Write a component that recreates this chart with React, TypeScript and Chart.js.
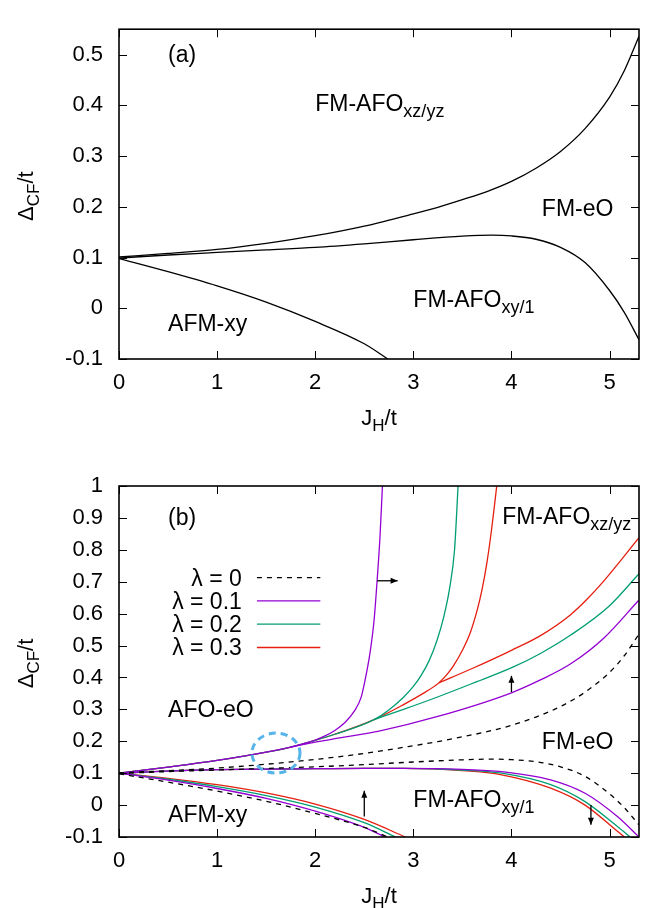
import React, { useEffect, useRef } from "react";
import { Chart, registerables } from "chart.js";

Chart.register(...registerables);

const FONT = "'Liberation Sans', Arial, Helvetica, sans-serif";

// ---------- axes ----------
const X_MIN = 0;
const X_MAX = 5.3;
const A_Y_MIN = -0.1;
const A_Y_MAX = 0.55;
const B_Y_MIN = -0.1;
const B_Y_MAX = 1.0;

// ---------- lambda = 0 (panel a solid, panel b dashed) ----------
const L0_UP_J = [0, 0.5, 1, 1.5, 2, 2.5, 3, 3.25, 3.5, 3.75, 4, 4.25, 4.5, 4.75, 5, 5.15, 5.3];
const L0_UP_D = [0.101, 0.108, 0.116, 0.128, 0.143, 0.162, 0.186, 0.199, 0.214, 0.23, 0.25, 0.276, 0.309, 0.354, 0.416, 0.468, 0.536];
const L0_MID_J = [0, 0.5, 1, 1.5, 2, 2.5, 3, 3.5, 3.8, 4, 4.25, 4.5, 4.75, 5, 5.15, 5.3];
const L0_MID_D = [0.099, 0.105, 0.11, 0.115, 0.12, 0.127, 0.135, 0.142, 0.144, 0.1425, 0.136, 0.12, 0.09, 0.035, -0.008, -0.062];
const L0_LOW_J = [0, 0.5, 1, 1.5, 2, 2.5, 2.74];
const L0_LOW_D = [0.098, 0.072, 0.044, 0.012, -0.026, -0.07, -0.1];

// ---------- lambda = 0.1 ----------
const L1_UP_J = [0, 0.5, 1, 1.5, 1.75, 1.9, 2.0, 2.1, 2.2, 2.3, 2.4, 2.47, 2.52, 2.56, 2.6, 2.63, 2.66, 2.685];
const L1_UP_D = [0.1, 0.119, 0.14, 0.166, 0.182, 0.194, 0.204, 0.217, 0.234, 0.258, 0.295, 0.34, 0.41, 0.48, 0.58, 0.7, 0.84, 1.0];
const L1_EO_J = [1.75, 2.0, 2.2, 2.65, 3.24, 4.0, 4.3, 4.6, 4.94, 5.3];
const L1_EO_D = [0.182, 0.197, 0.208, 0.232, 0.277, 0.352, 0.393, 0.442, 0.523, 0.643];
const L1_MID_J = [0, 0.3, 0.7, 1, 1.5, 2, 2.5, 2.9, 3.5, 3.9, 4.4, 4.75, 5.08, 5.3];
const L1_MID_D = [0.1, 0.104, 0.109, 0.111, 0.113, 0.114, 0.115, 0.115, 0.112, 0.105, 0.079, 0.037, -0.036, -0.1];
const L1_LOW_J = [0, 0.5, 1, 1.5, 2, 2.5, 2.71];
const L1_LOW_D = [0.1, 0.078, 0.052, 0.021, -0.019, -0.07, -0.1];

// ---------- lambda = 0.2 ----------
const L2_UP_J = [0, 0.5, 1, 1.5, 1.75, 2.0, 2.2, 2.6, 2.75, 2.9, 3.0, 3.07, 3.16, 3.24, 3.31, 3.37, 3.42, 3.456];
const L2_UP_D = [0.1, 0.119, 0.14, 0.166, 0.182, 0.203, 0.222, 0.268, 0.298, 0.338, 0.372, 0.402, 0.452, 0.515, 0.59, 0.68, 0.8, 1.0];
const L2_EO_J = [2.6, 2.9, 3.24, 3.6, 4.02, 4.3, 4.6, 5.0, 5.3];
const L2_EO_D = [0.268, 0.3, 0.338, 0.381, 0.433, 0.476, 0.532, 0.625, 0.725];
const L2_MID_J = [0, 0.3, 0.7, 1, 1.5, 2, 2.5, 2.9, 3.5, 3.9, 4.4, 4.75, 5.08, 5.21];
const L2_MID_D = [0.1, 0.104, 0.109, 0.111, 0.113, 0.114, 0.115, 0.115, 0.11, 0.1, 0.064, 0.011, -0.067, -0.1];
const L2_LOW_J = [0, 0.5, 1, 1.5, 2, 2.5, 2.82];
const L2_LOW_D = [0.1, 0.081, 0.058, 0.03, -0.006, -0.055, -0.1];

// ---------- lambda = 0.3 ----------
const L3_UP_J = [0, 0.5, 1, 1.5, 1.75, 2.0, 2.2, 2.6, 2.9, 3.1, 3.26, 3.35, 3.41, 3.5, 3.58, 3.65, 3.7, 3.75, 3.8, 3.85];
const L3_UP_D = [0.1, 0.119, 0.14, 0.166, 0.182, 0.203, 0.222, 0.268, 0.315, 0.35, 0.383, 0.412, 0.437, 0.485, 0.54, 0.61, 0.675, 0.76, 0.87, 1.0];
const L3_EO_J = [3.26, 3.6, 4.0, 4.3, 4.6, 4.77, 4.94, 5.3];
const L3_EO_D = [0.383, 0.428, 0.485, 0.532, 0.596, 0.645, 0.702, 0.838];
const L3_MID_J = [0, 0.3, 0.7, 1, 1.5, 2, 2.5, 2.9, 3.5, 3.9, 4.4, 4.75, 5.08, 5.15];
const L3_MID_D = [0.1, 0.104, 0.109, 0.111, 0.113, 0.114, 0.115, 0.115, 0.108, 0.095, 0.053, 0.0, -0.082, -0.1];
const L3_LOW_J = [0, 0.5, 1, 1.5, 2, 2.5, 2.92];
const L3_LOW_D = [0.1, 0.084, 0.064, 0.038, 0.003, -0.045, -0.1];

// ---------- legend ----------
const LEGEND_LABELS = ["λ = 0", "λ = 0.1", "λ = 0.2", "λ = 0.3"];
const COL_BLACK = "#000000";
const COL_L1 = "#9400d3";
const COL_L2 = "#009e73";
const COL_L3 = "#e51e10";
const COL_MARK = "#56b4e9";

type Part = { t: string; sub?: boolean };
type Label = { j: number; d: number; parts: Part[] };

const A_LABELS: Label[] = [
  { j: 0.5, d: 0.502, parts: [{ t: "(a)" }] },
  { j: 2.0, d: 0.404, parts: [{ t: "FM-AFO" }, { t: "xz/yz", sub: true }] },
  { j: 4.31, d: 0.198, parts: [{ t: "FM-eO" }] },
  { j: 3.0, d: 0.0185, parts: [{ t: "FM-AFO" }, { t: "xy/1", sub: true }] },
  { j: 0.5, d: -0.03, parts: [{ t: "AFM-xy" }] },
];
const B_LABELS: Label[] = [
  { j: 0.5, d: 0.902, parts: [{ t: "(b)" }] },
  { j: 3.905, d: 0.906, parts: [{ t: "FM-AFO" }, { t: "xz/yz", sub: true }] },
  { j: 0.5, d: 0.301, parts: [{ t: "AFO-eO" }] },
  { j: 4.31, d: 0.202, parts: [{ t: "FM-eO" }] },
  { j: 3.0, d: 0.02, parts: [{ t: "FM-AFO" }, { t: "xy/1", sub: true }] },
  { j: 0.5, d: -0.027, parts: [{ t: "AFM-xy" }] },
];

// arrows in panel b: [j1, d1, j2, d2]
const B_ARROWS = [
  [2.63, 0.703, 2.84, 0.703],
  [4.0, 0.354, 4.0, 0.405],
  [2.5, -0.036, 2.5, 0.045],
  [4.81, 0.0, 4.81, -0.062],
];
// highlighted region: [j, d, rj, rd]
const B_MARK = [1.6, 0.163, 0.245, 0.0626];

function ds(j: number[], d: number[], color: string, dash: number[] = []) {
  return {
    data: j.map((x, i) => ({ x, y: d[i] })),
    borderColor: color,
    borderWidth: 1.3,
    borderDash: dash,
    pointRadius: 0,
    fill: false,
    cubicInterpolationMode: "monotone" as const,
  };
}

function drawRich(
  ctx: CanvasRenderingContext2D,
  x: number,
  baseline: number,
  parts: Part[],
  align: "left" | "right" | "center",
  mainSize = 23,
  subSize = 18,
  drop = 6
) {
  const fontOf = (p: Part) => `${p.sub ? subSize : mainSize}px ${FONT}`;
  const widths = parts.map((p) => {
    ctx.font = fontOf(p);
    return ctx.measureText(p.t).width;
  });
  const total = widths.reduce((a, b) => a + b, 0);
  let cx = align === "left" ? x : align === "right" ? x - total : x - total / 2;
  ctx.textAlign = "left";
  ctx.textBaseline = "alphabetic";
  parts.forEach((p, i) => {
    ctx.font = fontOf(p);
    ctx.fillText(p.t, cx, baseline + (p.sub ? drop : 0));
    cx += widths[i];
  });
}

function arrow(ctx: CanvasRenderingContext2D, x1: number, y1: number, x2: number, y2: number) {
  ctx.beginPath();
  ctx.moveTo(x1, y1);
  ctx.lineTo(x2, y2);
  ctx.stroke();
  const a = Math.atan2(y2 - y1, x2 - x1);
  const L = 7;
  const W = 3;
  const c = Math.cos(a);
  const s = Math.sin(a);
  ctx.beginPath();
  ctx.moveTo(x2, y2);
  ctx.lineTo(x2 - L * c + W * s, y2 - L * s - W * c);
  ctx.lineTo(x2 - L * c - W * s, y2 - L * s + W * c);
  ctx.closePath();
  ctx.fill();
}

function makeDeco(panel: "a" | "b") {
  return {
    id: "deco" + panel,
    afterDraw(chart: any) {
      const ctx: CanvasRenderingContext2D = chart.ctx;
      const { left, right, top, bottom } = chart.chartArea;
      const xs = chart.scales.x;
      const ys = chart.scales.y;
      const px = (v: number) => xs.getPixelForValue(v);
      const py = (v: number) => ys.getPixelForValue(v);
      ctx.save();
      ctx.fillStyle = "#000";
      ctx.strokeStyle = "#000";
      // inward ticks on all four sides
      ctx.lineWidth = 1;
      ctx.beginPath();
      for (const t of xs.ticks) {
        const x = Math.round(px(t.value)) + 0.5;
        ctx.moveTo(x, bottom);
        ctx.lineTo(x, bottom - 8);
        ctx.moveTo(x, top);
        ctx.lineTo(x, top + 8);
      }
      for (const t of ys.ticks) {
        const y = Math.round(py(t.value)) + 0.5;
        ctx.moveTo(left, y);
        ctx.lineTo(left + 8, y);
        ctx.moveTo(right, y);
        ctx.lineTo(right - 8, y);
      }
      ctx.stroke();
      // frame
      ctx.lineWidth = 1.6;
      ctx.strokeRect(left, top, right - left, bottom - top);

      // axis titles
      drawRich(ctx, (left + right) / 2, bottom + 66, [{ t: "J" }, { t: "H", sub: true }, { t: "/t" }], "center", 22, 17, 6);
      ctx.save();
      ctx.translate(33, (top + bottom) / 2 + 2);
      ctx.rotate(-Math.PI / 2);
      drawRich(ctx, 0, 0, [{ t: "Δ" }, { t: "CF", sub: true }, { t: "/t" }], "center", 22, 17, 6);
      ctx.restore();

      // region labels
      const labels = panel === "a" ? A_LABELS : B_LABELS;
      for (const l of labels) {
        drawRich(ctx, px(l.j), py(l.d) + 8, l.parts, "left");
      }

      if (panel === "b") {
        // legend
        const legY = [0.713, 0.64, 0.567, 0.494];
        const legCols = [COL_BLACK, COL_L1, COL_L2, COL_L3];
        LEGEND_LABELS.forEach((txt, i) => {
          const y = py(legY[i]);
          drawRich(ctx, px(1.252), y + 8, [{ t: txt }], "right");
          ctx.save();
          ctx.strokeStyle = legCols[i];
          ctx.lineWidth = 1.4;
          ctx.setLineDash(i === 0 ? [5, 5] : []);
          ctx.beginPath();
          ctx.moveTo(px(1.406), y);
          ctx.lineTo(px(2.052), y);
          ctx.stroke();
          ctx.restore();
        });
        // arrows
        ctx.lineWidth = 1.3;
        for (const [j1, d1, j2, d2] of B_ARROWS) {
          arrow(ctx, px(j1), py(d1), px(j2), py(d2));
        }
        // dashed ellipse
        const [mj, md, rj, rd] = B_MARK;
        const cx = px(mj);
        const cy = py(md);
        ctx.save();
        ctx.strokeStyle = COL_MARK;
        ctx.lineWidth = 3;
        ctx.setLineDash([7, 5]);
        ctx.beginPath();
        ctx.ellipse(cx, cy, px(mj + rj) - cx, cy - py(md + rd), 0, 0, Math.PI * 2);
        ctx.stroke();
        ctx.restore();
      }
      ctx.restore();
    },
  };
}

const fmt = (v: number | string) => String(Math.round(Number(v) * 100) / 100);

function makeConfig(datasets: any[], yMin: number, yMax: number, padTop: number, xHeight: number, panel: "a" | "b") {
  const tickFont = { family: FONT, size: 22 };
  return {
    type: "line" as const,
    data: { datasets },
    options: {
      responsive: false,
      animation: false as const,
      devicePixelRatio: 1,
      events: [],
      layout: { padding: { top: padTop, right: 21, left: 0, bottom: 0 } },
      plugins: { legend: { display: false }, tooltip: { enabled: false }, title: { display: false } },
      scales: {
        x: {
          type: "linear" as const,
          min: X_MIN,
          max: X_MAX,
          ticks: { stepSize: 1, includeBounds: false, font: tickFont, color: "#000", padding: 11, callback: fmt, maxRotation: 0 },
          grid: { display: false, drawTicks: false },
          border: { display: false },
          afterFit: (s: any) => {
            s.height = xHeight;
          },
        },
        y: {
          type: "linear" as const,
          min: yMin,
          max: yMax,
          ticks: { stepSize: 0.1, includeBounds: false, font: tickFont, color: "#000", padding: 16, callback: fmt },
          grid: { display: false, drawTicks: false },
          border: { display: false },
          afterFit: (s: any) => {
            s.width = 119;
          },
        },
      },
    },
    plugins: [makeDeco(panel)],
  };
}

export default function App() {
  const refA = useRef<HTMLCanvasElement>(null);
  const refB = useRef<HTMLCanvasElement>(null);

  useEffect(() => {
    const dash = [5, 5];
    const aSets = [
      ds(L0_UP_J, L0_UP_D, COL_BLACK),
      ds(L0_MID_J, L0_MID_D, COL_BLACK),
      ds(L0_LOW_J, L0_LOW_D, COL_BLACK),
    ];
    const bSets = [
      ds(L0_UP_J, L0_UP_D, COL_BLACK, dash),
      ds(L0_MID_J, L0_MID_D, COL_BLACK, dash),
      ds(L0_LOW_J, L0_LOW_D, COL_BLACK, dash),
      ds(L1_UP_J, L1_UP_D, COL_L1),
      ds(L1_EO_J, L1_EO_D, COL_L1),
      ds(L1_MID_J, L1_MID_D, COL_L1),
      ds(L1_LOW_J, L1_LOW_D, COL_L1),
      ds(L2_UP_J, L2_UP_D, COL_L2),
      ds(L2_EO_J, L2_EO_D, COL_L2),
      ds(L2_MID_J, L2_MID_D, COL_L2),
      ds(L2_LOW_J, L2_LOW_D, COL_L2),
      ds(L3_UP_J, L3_UP_D, COL_L3),
      ds(L3_EO_J, L3_EO_D, COL_L3),
      ds(L3_MID_J, L3_MID_D, COL_L3),
      ds(L3_LOW_J, L3_LOW_D, COL_L3),
    ];
    const a = new Chart(refA.current as HTMLCanvasElement, makeConfig(aSets, A_Y_MIN, A_Y_MAX, 7, 95, "a") as any);
    const b = new Chart(refB.current as HTMLCanvasElement, makeConfig(bSets, B_Y_MIN, B_Y_MAX, 32, 71, "b") as any);
    return () => {
      a.destroy();
      b.destroy();
    };
  }, []);

  return (
    <div style={{ position: "fixed", left: 0, top: 0, width: 660, height: 908, background: "#fff", overflow: "hidden" }}>
      <canvas ref={refA} width={660} height={454} style={{ position: "absolute", left: 0, top: 0, width: 660, height: 454 }} />
      <canvas ref={refB} width={660} height={454} style={{ position: "absolute", left: 0, top: 454, width: 660, height: 454 }} />
    </div>
  );
}
